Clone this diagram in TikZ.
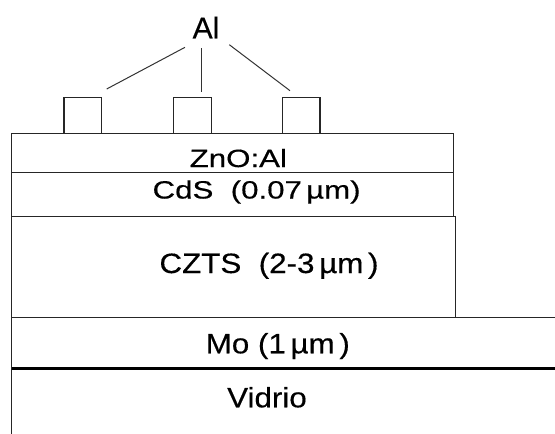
\documentclass[tikz,border=0pt]{standalone}
\usepackage{fontspec}
\setmainfont[FakeBold=0.4]{Liberation Sans}
\newfontfamily\widefont[FakeStretch=1.25,FakeBold=0.4]{Liberation Sans}
\newfontfamily\midfont[FakeStretch=1.12,FakeBold=0.4]{Liberation Sans}
\begin{document}
\begin{tikzpicture}[x=1pt,y=-1pt,
  edge/.style={line width=1.3pt, draw=black!85},
  thickedge/.style={line width=3pt, draw=black},
  contact/.style={draw=black!85, line width=1.3pt, minimum width=37.7pt, minimum height=35.6pt, inner sep=0pt},
  lead/.style={line width=1pt, draw=black!80},
  lbl/.style={anchor=base, inner sep=0pt},
  biglbl/.style={lbl, font=\fontsize{30}{36}\selectfont},
  thinlbl/.style={lbl, font=\widefont\fontsize{25}{30}\selectfont},
  midlbl/.style={lbl, font=\midfont\fontsize{28}{34}\selectfont}]
\useasboundingbox (0,0) rectangle (555,434);
% layers
\draw[edge] (11.3,133.3) rectangle (453.3,172.7);
\draw[edge] (11.3,172.7) rectangle (453.3,216.7);
\draw[edge] (11.3,216.7) -- (455.3,216.7) -- (455.3,317.7);
\draw[edge] (11.3,317.7) -- (555,317.7);
\draw[thickedge] (11.3,368) -- (555,368);
\draw[edge] (11.3,133.3) -- (11.3,434);
% contacts
\node[contact] (c1) at (82.85,115.5) {};
\node[contact] (c2) at (192.5,115.5) {};
\node[contact] (c3) at (301.2,115.5) {};
% label Al and leads
\node[biglbl] (al) at (206,38.3) {Al};
\coordinate (l1a) at (185,47.3);
\coordinate (l1b) at (106.7,89);
\coordinate (l2a) at (201.7,48.3);
\coordinate (l2b) at (201.7,91.7);
\coordinate (l3a) at (229.3,44.7);
\coordinate (l3b) at (290,90.7);
\draw[lead] (l1a) -- (l1b);
\draw[lead] (l2a) -- (l2b);
\draw[lead] (l3a) -- (l3b);
% layer labels
\node[thinlbl] (zno) at (238.3,167) {ZnO:Al};
\node[thinlbl] (cds) at (256.6,198.5) {CdS\ \ (0.07\,µm)};
\node[midlbl] (czts) at (269,273) {CZTS\ \ (2-3\,µm\,)};
\node[midlbl] (mo) at (277.8,353.3) {Mo (1\,µm\,)};
\node[midlbl] (vid) at (267,407.3) {Vidrio};
\end{tikzpicture}
\end{document}
